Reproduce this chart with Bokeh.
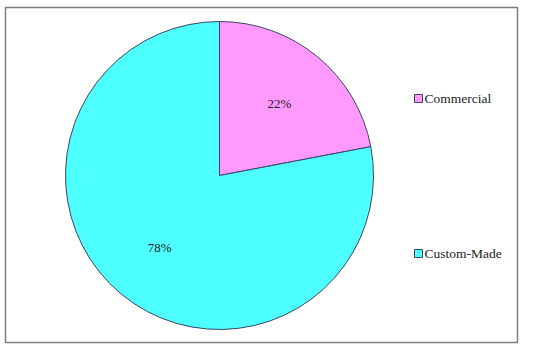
import math
from bokeh.plotting import figure
from bokeh.models import Range1d, ColumnDataSource
from bokeh.core.properties import value
from bokeh.embed import file_html
from bokeh.resources import INLINE

categories = ["Commercial", "Custom-Made"]
shares = [22, 78]
colors = ["#FF99FF", "#4DFFFF"]

# frame in pixel-like data coordinates
FW, FH = 512, 335
p = figure(width=FW + 7, height=FH + 9, output_backend="svg", toolbar_location=None,
           x_range=Range1d(0, FW), y_range=Range1d(0, FH),
           min_border_left=5, min_border_top=7, min_border_right=2, min_border_bottom=2,
           background_fill_color="white", border_fill_color="white")
p.axis.visible = False
p.grid.visible = False
p.outline_line_color = "#7f7f7f"
p.outline_line_width = 1.5

cx, cy, r = 214, 167, 154
total = sum(shares)
starts, ends, mids = [], [], []
a = math.pi / 2
for s in shares:
    sweep = 2 * math.pi * s / total
    ends.append(a)
    starts.append(a - sweep)
    mids.append(a - sweep / 2)
    a -= sweep

src = ColumnDataSource(dict(start=starts, end=ends, color=colors))
p.wedge(x=cx, y=cy, radius=r, start_angle="start", end_angle="end",
        fill_color="color", line_color="#3a4560", line_width=1, source=src)

lx = [cx + 0.61 * r * math.cos(m) for m in mids]
ly = [cy + 0.61 * r * math.sin(m) for m in mids]
labels = [f"{s}%" for s in shares]
p.text(x=lx, y=ly, text=labels, text_align="center", text_baseline="middle",
       text_font=value("Liberation Serif"), text_font_size="13px", text_color="#222222")

# legend
leg_x = 413
leg_y = [244, 89]
p.scatter(x=[leg_x] * 2, y=leg_y, marker="square", size=8, fill_color=colors,
          line_color="#3a4560", line_width=1)
p.text(x=[leg_x + 6] * 2, y=leg_y, text=categories, text_align="left",
       text_baseline="middle", text_font=value("Liberation Serif"),
       text_font_size="13.5px", text_color="#222222")

open("out.html", "w").write(file_html(p, INLINE))
